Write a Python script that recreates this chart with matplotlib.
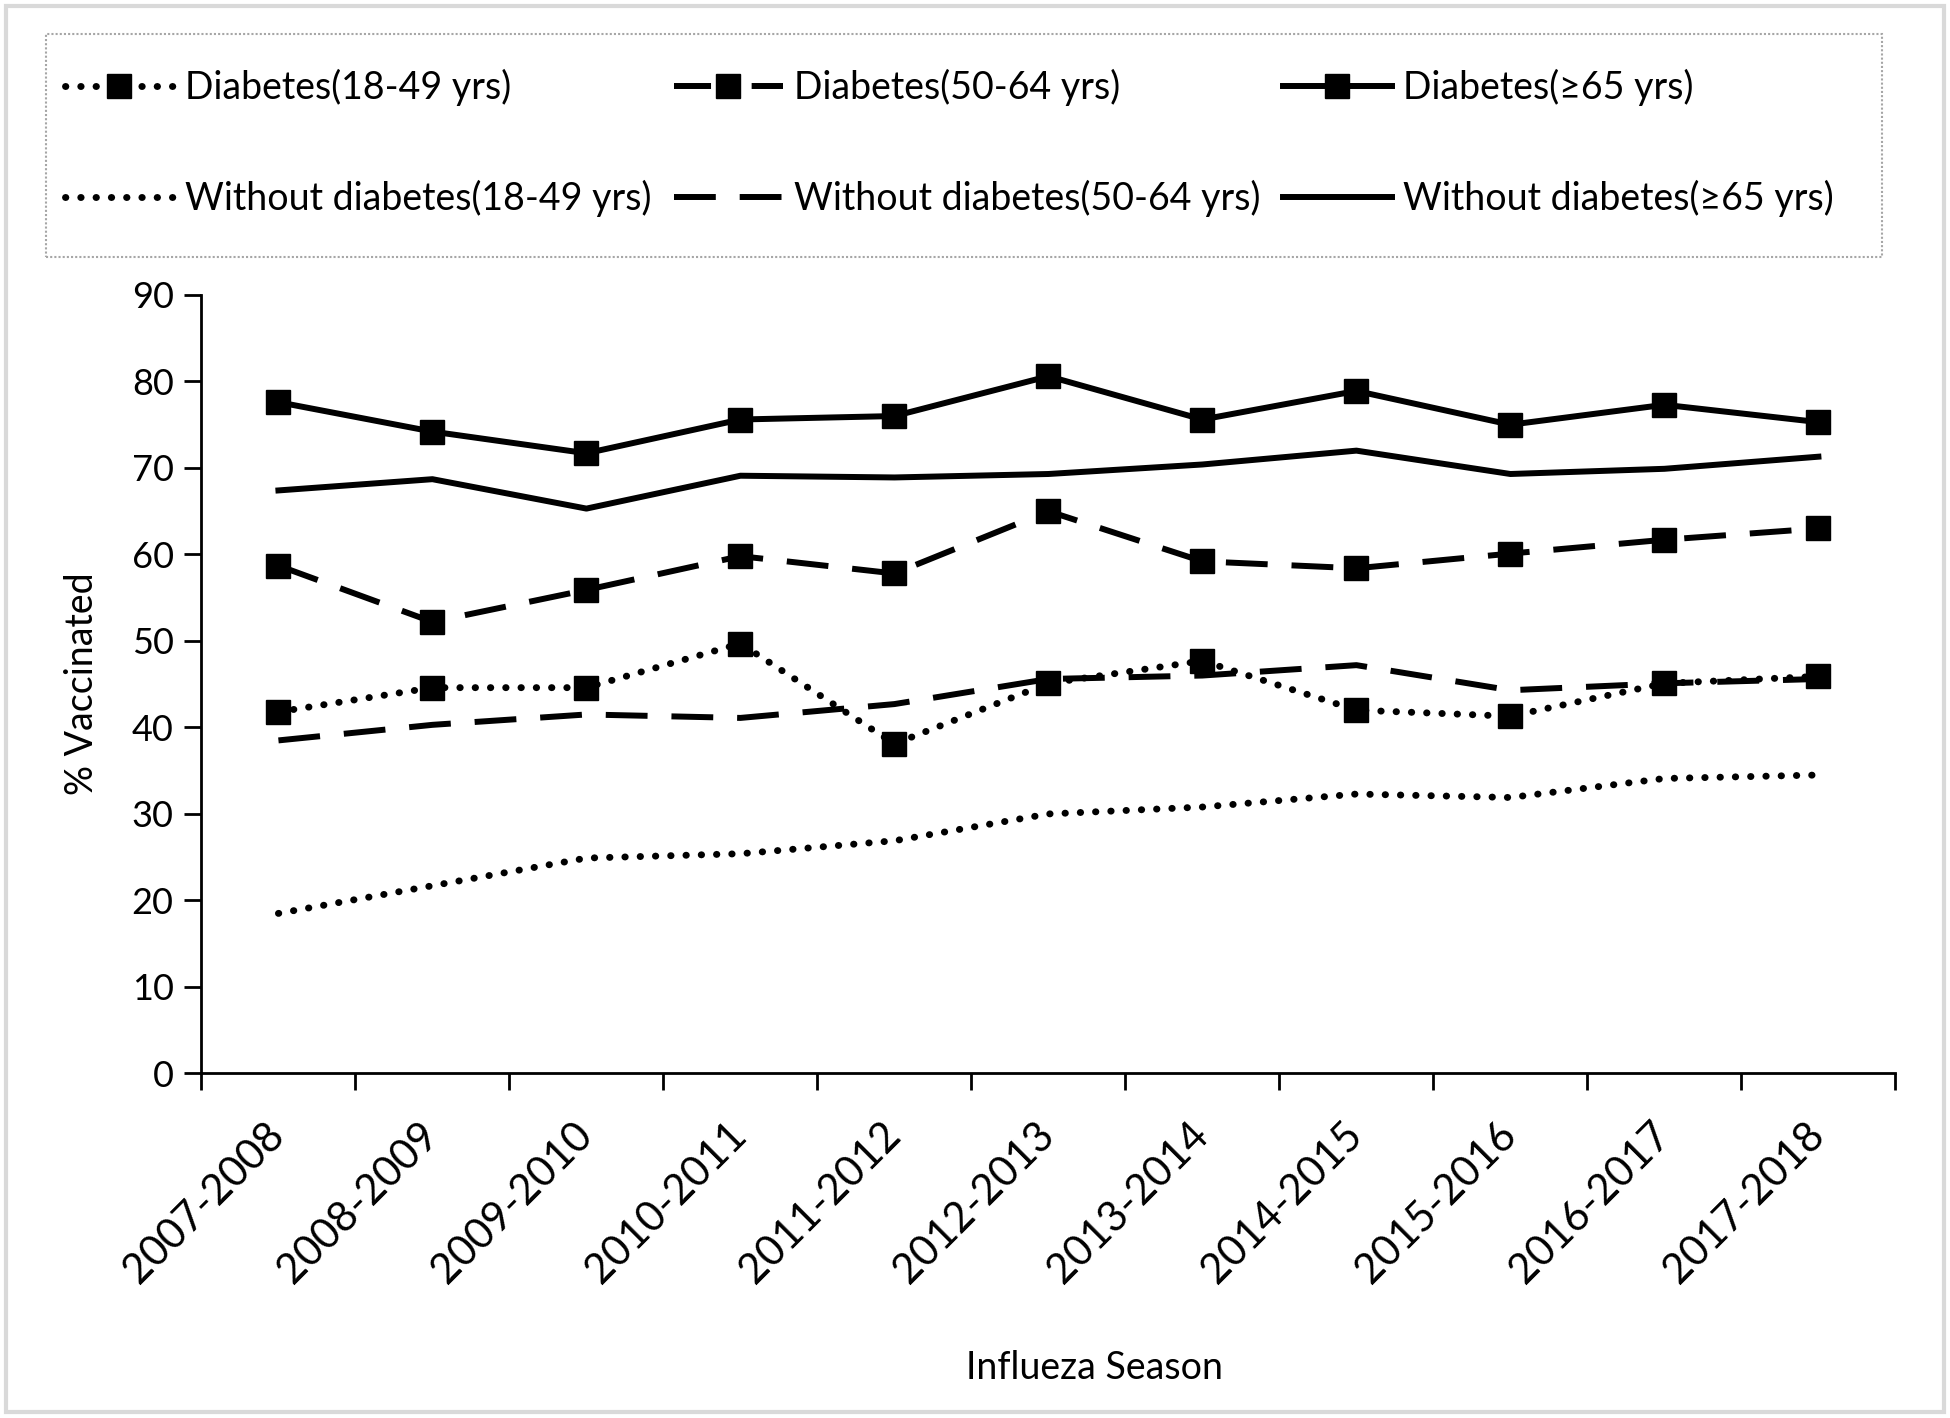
import numpy as np
import matplotlib.pyplot as plt
from matplotlib.patches import Rectangle

plt.rcParams['font.family'] = ['Lato', 'DejaVu Sans']

seasons = ["2007-2008", "2008-2009", "2009-2010", "2010-2011", "2011-2012", "2012-2013",
           "2013-2014", "2014-2015", "2015-2016", "2016-2017", "2017-2018"]

diab_18_49 = [41.8, 44.6, 44.6, 49.7, 38.1, 45.1, 47.7, 42.0, 41.3, 45.1, 45.9]
diab_50_64 = [58.7, 52.2, 55.9, 59.8, 57.8, 65.0, 59.2, 58.4, 60.1, 61.7, 63.0]
diab_65 = [77.6, 74.2, 71.7, 75.6, 76.0, 80.6, 75.6, 78.9, 75.0, 77.3, 75.3]
nodiab_18_49 = [18.5, 21.7, 24.9, 25.4, 26.9, 30.0, 30.8, 32.3, 31.9, 34.1, 34.5]
nodiab_50_64 = [38.5, 40.3, 41.5, 41.1, 42.7, 45.6, 46.0, 47.2, 44.3, 45.1, 45.6]
nodiab_65 = [67.4, 68.7, 65.3, 69.1, 68.9, 69.3, 70.4, 72.0, 69.3, 69.9, 71.3]

fig = plt.figure(figsize=(19.5, 14.18), dpi=100)
ax = fig.add_axes([0.1033, 0.243, 0.8687, 0.549])

x = np.arange(len(seasons))
lw = 4.3
lw_dot = 5
dot = (0, (0.05, 2.15))
dash = (0, (7, 4))
ms = 17

l1, = ax.plot(x, diab_18_49, color='black', lw=lw_dot, ls=dot, dash_capstyle='round',
              marker='s', ms=ms, label='Diabetes(18-49 yrs)')
l2, = ax.plot(x, diab_50_64, color='black', lw=lw, ls=dash, marker='s', ms=ms,
              label='Diabetes(50-64 yrs)')
l3, = ax.plot(x, diab_65, color='black', lw=lw, ls='-', marker='s', ms=ms,
              label='Diabetes(≥65 yrs)')
l4, = ax.plot(x, nodiab_18_49, color='black', lw=lw_dot, ls=dot, dash_capstyle='round',
              label='Without diabetes(18-49 yrs)')
l5, = ax.plot(x, nodiab_50_64, color='black', lw=lw, ls=dash,
              label='Without diabetes(50-64 yrs)')
l6, = ax.plot(x, nodiab_65, color='black', lw=lw, ls='-',
              label='Without diabetes(≥65 yrs)')

ax.set_xlim(-0.5, len(seasons) - 0.5)
ax.set_ylim(0, 90)
ax.set_yticks(np.arange(0, 91, 10))
ax.set_xticks(x)
ax.set_xticklabels(seasons, rotation=45, ha='right', va='center', rotation_mode='anchor')
ax.set_xticks(np.arange(-0.5, len(seasons), 1), minor=True)
ax.tick_params(axis='x', which='major', length=0, pad=40, labelsize=30)
ax.tick_params(axis='x', which='minor', length=12, width=2, direction='out')
ax.tick_params(axis='y', length=12, width=2, direction='out', pad=8, labelsize=26)

for s in ['top', 'right']:
    ax.spines[s].set_visible(False)
for s in ['left', 'bottom']:
    ax.spines[s].set_linewidth(2)

ax.set_ylabel('% Vaccinated', fontsize=27)
ax.yaxis.set_label_coords(-0.060, 0.5)
ax.set_xlabel('Influeza Season', fontsize=27)
ax.xaxis.set_label_coords(0.527, -0.355)

# legend box
fig.patches.append(Rectangle((0.0236, 0.819), 0.9413, 0.157, transform=fig.transFigure,
                             fill=False, ec='#a6a6a6', lw=1.5, ls=(0, (1, 1))))
leg = fig.legend(handles=[l1, l4, l2, l5, l3, l6], ncol=3, loc='center left',
                 bbox_to_anchor=(0.0236, 0.899), frameon=False, fontsize=27, borderpad=0,
                 handlelength=2.9, handletextpad=0.3, columnspacing=0.6, labelspacing=1.97)
# dashed legend sample with gaps around the marker
leg.legend_handles[2].set_linestyle((0, (6.2, 6.8)))

# outer frame
fig.patches.append(Rectangle((0.003, 0.004), 0.994, 0.992, transform=fig.transFigure,
                             fill=False, ec='#d9d9d9', lw=3))

fig.savefig('out.png', dpi=100)
